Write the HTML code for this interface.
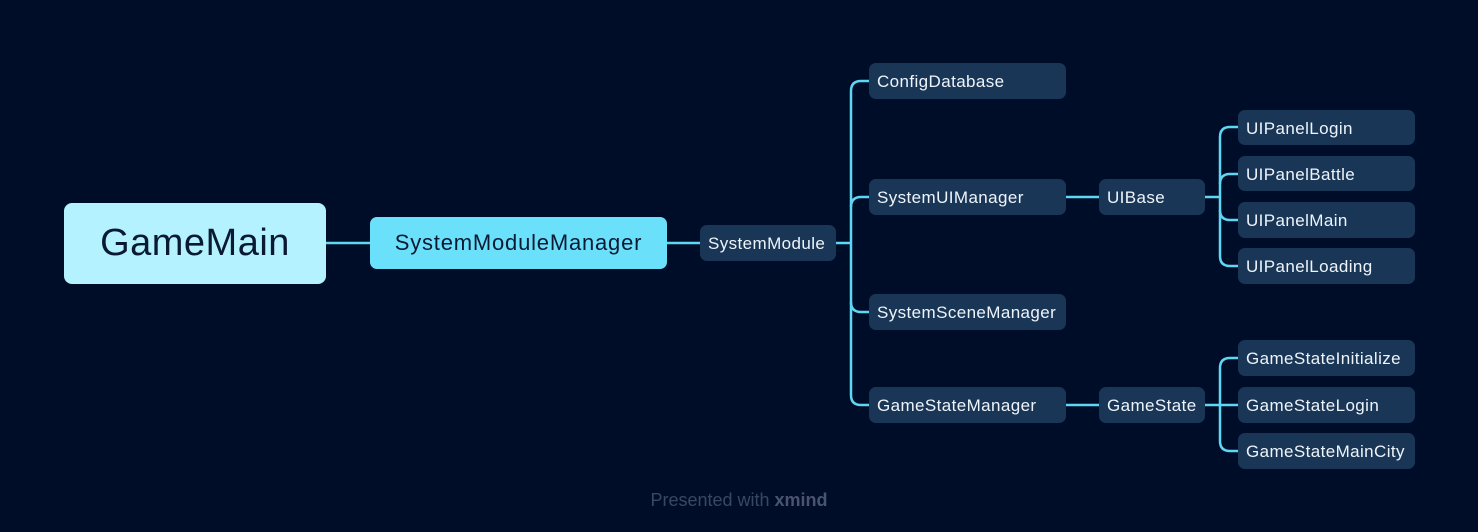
<!DOCTYPE html>
<html><head><meta charset="utf-8"><style>
body{margin:0;width:1478px;height:532px;background:#000d29;overflow:hidden;font-family:"Liberation Sans",sans-serif;position:relative}
.n{position:absolute;box-sizing:border-box;border-radius:7px;background:#1a3656;color:#eef4fa;font-size:17px;letter-spacing:0.4px;display:flex;align-items:center;padding-left:8px;padding-top:2px;white-space:nowrap}
svg{position:absolute;left:0;top:0}
</style></head><body>
<svg width="1478" height="532" fill="none" stroke="#5fd6f2" stroke-width="2.5">
<path d="M326 243H370M667 243H700M836 243H851"/>
<path d="M869 81H861Q851 81 851 91V395Q851 405 861 405H869"/>
<path d="M869 197H861Q851 197 851 207M851 302Q851 312 861 312H869"/>
<path d="M1066 197H1099M1066 405H1099"/>
<path d="M1205 197H1220M1205 405H1238"/>
<path d="M1238 127H1230Q1220 127 1220 137V256Q1220 266 1230 266H1238"/>
<path d="M1238 174H1230Q1220 174 1220 184M1220 210Q1220 220 1230 220H1238"/>
<path d="M1238 358H1230Q1220 358 1220 368V441Q1220 451 1230 451H1238"/>
</svg>
<div class="n" style="left:64px;top:203px;width:262px;height:81px;background:#b5f2ff;color:#0b1a33;font-size:38px;letter-spacing:0.5px;justify-content:center;padding:0;border-radius:8px">GameMain</div>
<div class="n" style="left:370px;top:217px;width:297px;height:52px;background:#6be0fb;color:#0b1a33;font-size:22px;letter-spacing:0.8px;justify-content:center;padding:0">SystemModuleManager</div>
<div class="n" style="left:700px;top:225px;width:136px;height:36px">SystemModule</div>
<div class="n" style="left:869px;top:63px;width:197px;height:36px">ConfigDatabase</div>
<div class="n" style="left:869px;top:179px;width:197px;height:36px">SystemUIManager</div>
<div class="n" style="left:869px;top:294px;width:197px;height:36px">SystemSceneManager</div>
<div class="n" style="left:869px;top:387px;width:197px;height:36px">GameStateManager</div>
<div class="n" style="left:1099px;top:179px;width:106px;height:36px">UIBase</div>
<div class="n" style="left:1099px;top:387px;width:106px;height:36px">GameState</div>
<div class="n" style="left:1238px;top:110px;width:177px;height:35px">UIPanelLogin</div>
<div class="n" style="left:1238px;top:156px;width:177px;height:35px">UIPanelBattle</div>
<div class="n" style="left:1238px;top:202px;width:177px;height:36px">UIPanelMain</div>
<div class="n" style="left:1238px;top:248px;width:177px;height:36px">UIPanelLoading</div>
<div class="n" style="left:1238px;top:340px;width:177px;height:36px">GameStateInitialize</div>
<div class="n" style="left:1238px;top:387px;width:177px;height:36px">GameStateLogin</div>
<div class="n" style="left:1238px;top:433px;width:177px;height:36px">GameStateMainCity</div>
<div style="position:absolute;left:0;width:1478px;top:490px;text-align:center;color:#3b4662;font-size:18px">Presented with <b style="color:#4a546e">xmind</b></div>
</body></html>
